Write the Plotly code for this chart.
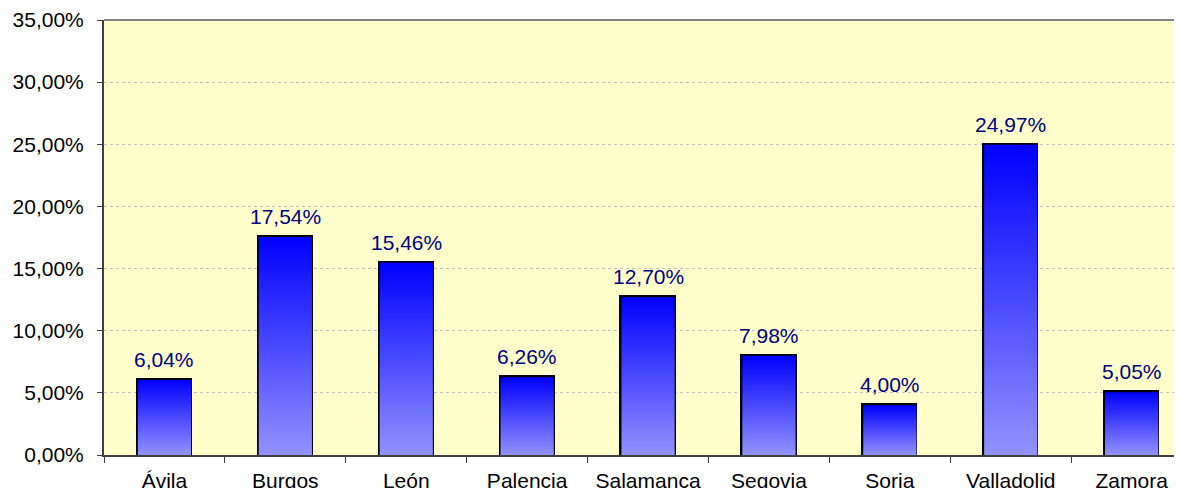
import plotly.graph_objects as go

categories = ["Ávila", "Burgos", "León", "Palencia", "Salamanca", "Segovia", "Soria", "Valladolid", "Zamora"]
values = [6.04, 17.54, 15.46, 6.26, 12.70, 7.98, 4.00, 24.97, 5.05]
y_ticks = [0, 0.05, 0.10, 0.15, 0.20, 0.25, 0.30, 0.35]

fractions = [v / 100 for v in values]
positions = list(range(len(categories)))
bar_w = 0.44
FONT = "Liberation Sans, Arial"

# layout geometry (page body has an 8px margin)
FIG_W, FIG_H = 1174, 480
M_L, M_R, M_T, M_B = 96, 0, 12, 33
CAT_PX = 120.9  # pixel width of one category; the last category runs past the window edge
plot_w = FIG_W - M_L - M_R
x_max = -0.5 + plot_w / CAT_PX

fig = go.Figure()

# gradient fills (one per bar so each bar has its own top-to-bottom gradient)
for xi, f in zip(positions, fractions):
    fig.add_trace(go.Scatter(
        x=[xi - bar_w / 2, xi + bar_w / 2, xi + bar_w / 2, xi - bar_w / 2, xi - bar_w / 2],
        y=[0, 0, f, f, 0],
        mode="none",
        fill="toself",
        fillgradient=dict(type="vertical", colorscale=[[0, "#9292ff"], [1, "#0000ff"]]),
        hoverinfo="skip",
        showlegend=False,
    ))

# outlines
fig.add_trace(go.Bar(
    x=positions,
    y=fractions,
    width=bar_w,
    marker=dict(color="rgba(0,0,0,0)", line=dict(color="#000000", width=3)),
    showlegend=False,
))

# data labels
for xi, v, f in zip(positions, values, fractions):
    fig.add_annotation(
        x=xi, y=f, xref="x", yref="y",
        text=f"{v:.2f}%".replace(".", ","),
        showarrow=False, yanchor="bottom", yshift=7,
        font=dict(color="#000080", size=21, family=FONT),
    )

fig.update_layout(
    width=FIG_W, height=FIG_H,
    margin=dict(l=M_L, r=M_R, t=M_T, b=M_B),
    paper_bgcolor="#ffffff",
    plot_bgcolor="#ffffcc",
    separators=",.",
    font=dict(family=FONT, size=21, color="#000000"),
    bargap=0,
)

fig.update_xaxes(
    range=[-0.5, x_max],
    tickvals=positions,
    ticktext=categories,
    ticks="",
    ticklabelstandoff=6,
    automargin=False,
    showgrid=False,
    zeroline=False,
    showline=True, linecolor="#404040", linewidth=2,
    minor=dict(tickvals=[p - 0.5 for p in positions] + [len(categories) - 0.5],
               ticks="outside", ticklen=6, tickcolor="#404040", tickwidth=1, showgrid=False),
    tickfont=dict(size=21, family=FONT),
)

fig.update_yaxes(
    range=[0, 0.35],
    tickvals=y_ticks,
    tickformat=".2%",
    ticks="outside", ticklen=5, tickcolor="#404040",
    ticklabelstandoff=9,
    automargin=False,
    showgrid=True, gridcolor="#c0c0c0", griddash="dot", gridwidth=1,
    zeroline=False,
    showline=True, linecolor="#404040", linewidth=2,
    tickfont=dict(size=21, family=FONT),
)

# top border of plot area
fig.add_shape(type="line", xref="paper", yref="paper", x0=0, x1=1, y0=1, y1=1,
              line=dict(color="#808080", width=2))

fig.write_html("out.html")
